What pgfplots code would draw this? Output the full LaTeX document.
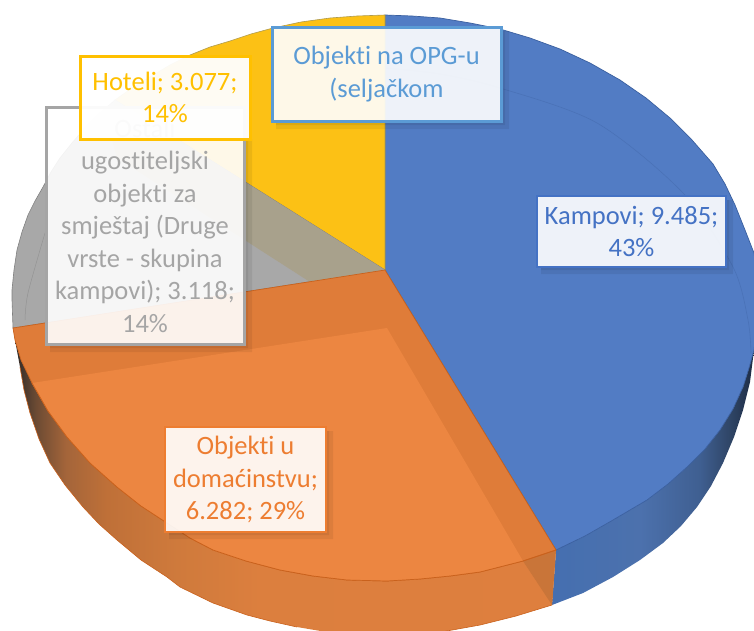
\documentclass[border=0pt]{standalone}
\usepackage{fontspec}
\setmainfont[Ligatures=NoCommon]{Carlito}
\usepackage{pgfplots}
\pgfplotsset{compat=1.18}
\definecolor{cblue}{HTML}{527CC4}
\definecolor{cblueln}{HTML}{3A5F9F}
\definecolor{corg}{HTML}{DF7C39}
\definecolor{corgl}{HTML}{EC8641}
\definecolor{corgln}{HTML}{C9611C}
\definecolor{ctri}{HTML}{C97539}
\definecolor{cyel}{HTML}{FCC115}
\definecolor{cgry}{HTML}{A8A8A8}
\definecolor{ckha}{HTML}{A8A18C}
\definecolor{lblue}{HTML}{5B9BD5}
\definecolor{lkamp}{HTML}{4472C4}
\definecolor{lorg}{HTML}{ED7D31}
\definecolor{lyel}{HTML}{FFC000}
\definecolor{lgry}{HTML}{A5A5A5}
\definecolor{oa}{HTML}{2E2A28}\definecolor{ob}{HTML}{6B4A33}\definecolor{oc}{HTML}{A4653A}\definecolor{od}{HTML}{BF7038}\definecolor{oe}{HTML}{CF7A3C}\definecolor{of}{HTML}{DC7F3E}\definecolor{og}{HTML}{DE7F3E}
\definecolor{ba}{HTML}{456FB0}\definecolor{bb}{HTML}{4C71AD}\definecolor{bc}{HTML}{3F5F91}\definecolor{bd}{HTML}{2F4566}\definecolor{be}{HTML}{1E2C44}
\pgfdeclarehorizontalshading{orangeside}{100bp}{color(0bp)=(oa);color(25bp)=(oa);color(26.9bp)=(ob);color(29.7bp)=(oc);color(33.5bp)=(od);color(40bp)=(oe);color(47.6bp)=(of);color(75bp)=(og);color(100bp)=(og)}
\pgfdeclarehorizontalshading{blueside}{100bp}{color(0bp)=(ba);color(25bp)=(ba);color(46.8bp)=(bb);color(61.6bp)=(bc);color(69bp)=(bd);color(75bp)=(be);color(100bp)=(be)}
\tikzset{lab/.style n args={4}{rectangle,fill=white,fill opacity=.9,text opacity=1,draw=#1,draw opacity=1,line width=#2,text=#1,minimum width=#3,minimum height=#4,inner sep=0pt,align=center,font=\fontsize{26.5}{32.5}\selectfont},
shd/.style={draw=none,fill=black,fill opacity=.065}}
\begin{document}
\begin{tikzpicture}
\begin{axis}[hide axis,scale only axis,width=754pt,height=630pt,xmin=0,xmax=754,ymin=0,ymax=630,y dir=reverse,clip=true]
% side walls
\addplot[draw=none,shading=blueside] coordinates {(556,550)(585,536)(613,520)(647,500)(668,484)(687,467)(705,449)(720,430)(733,409)(743,387)(749,368)(754,350)(750,382)(743,410)(734,437)(723,463)(711,486)(697,507)(681,526)(663,543)(640,560)(613,577)(583,593)(552,605)} --cycle;
\addplot[draw=none,shading=orangeside] coordinates {(15,340)(21,360)(32,383)(48,411)(67,437)(90,463)(117,487)(141,506)(167,523)(190,538)(213,550)(246,561)(280,570)(313,576)(347,580)(387,581)(420,579)(450,576)(480,572)(523,561)(556,550)(552,605)(516,616)(480,625)(430,634)(350,636)(297,627)(270,621)(247,615)(213,603)(180,587)(167,577)(141,560)(117,540)(99,524)(83,507)(65,485)(50,463)(39,439)(30,413)(24,390)(20,367)} --cycle;
\addplot[draw=none,fill=ctri] coordinates {(523,561)(556,550)(552,605)} --cycle;
\addplot[draw=corgln,line width=.6pt] coordinates {(552,605)(516,616)(480,625)(430,634)};
\addplot[draw=corgln,line width=.6pt] coordinates {(297,627)(270,621)(247,615)(213,603)(180,587)(167,577)(141,560)(117,540)(99,524)(83,507)(65,485)(50,463)(39,439)(30,413)(24,390)(20,367)};
% blue top
\addplot[draw=cblueln,line width=.7pt,fill=cblue] coordinates {(385,270)(385,15)(412,16)(440,18)(470,23)(500,29)(530,38)(560,49)(590,63)(620,80)(646,98)(670,118)(692,140)(713,164)(725,184)(735,205)(745,230)(754,253)(760,300)(754,350)(749,368)(743,387)(733,409)(720,430)(705,449)(687,467)(668,484)(647,500)(613,520)(585,536)(556,550)} --cycle;
\addplot[smooth,draw=cblueln!35!cblue,line width=.6pt] coordinates {(385,68)(440,74)(500,88)(597,123)(683,193)(733,267)(748,320)(751,353)};
% yellow top
\addplot[draw=cblueln!40!cyel,line width=.6pt,fill=cyel] coordinates {(385,270)(385,15)(357,16)(330,18)(301,22)(273,28)(251,34)(230,41)(210,47)(190,55)(170,65)(150,77)(132,88)(115,100)} --cycle;
% grey top
\addplot[draw=gray,line width=.6pt,fill=cgry] coordinates {(385,270)(115,100)(99,114)(85,128)(72,143)(60,158)(51,172)(43,187)(35,201)(28,215)(22,232)(17,250)(14,270)(12,290)(12,300)(13,328)} --cycle;
\addplot[draw=none,fill=ckha] coordinates {(385,270)(115,100)(109,130)(117,158)(310,282)} --cycle;
\addplot[smooth,draw=gray!50!cgry,line width=.5pt] coordinates {(45,233)(28,293)(25,320)};
% orange top
\addplot[draw=corgln,line width=.7pt,fill=corg] coordinates {(385,270)(13,328)(15,340)(21,360)(32,383)(48,411)(67,437)(90,463)(117,487)(141,506)(167,523)(190,538)(213,550)(246,561)(280,570)(313,576)(347,580)(387,581)(420,579)(450,576)(480,572)(523,561)(556,550)} --cycle;
\addplot[draw=none,fill=corgl] coordinates {(387,328)(32,383)(48,411)(67,437)(90,463)(117,487)(141,506)(167,523)(190,538)(213,550)(246,561)(280,570)(313,576)(347,580)(387,581)(420,579)(450,576)(480,572)(523,561)} --cycle;
\addplot[draw=corgln,line width=.7pt] coordinates {(32,383)(48,411)(67,437)(90,463)(117,487)(141,506)(167,523)(190,538)(213,550)(246,561)(280,570)(313,576)(347,580)(387,581)(420,579)(450,576)(480,572)(523,561)(556,550)};
% label shadows
\addplot[shd] coordinates {(726,200)(729,200)(729,270)(541,270)(541,267)(726,267)} --cycle;
\addplot[shd] coordinates {(726,200)(733,200)(733,274)(541,274)(541,267)(726,267)} --cycle;
\addplot[shd] coordinates {(326,431)(329,431)(329,535)(169,535)(169,532)(326,532)} --cycle;
\addplot[shd] coordinates {(326,431)(333,431)(333,539)(169,539)(169,532)(326,532)} --cycle;
\addplot[shd] coordinates {(244,139)(248,139)(248,348)(50,348)(50,344)(244,344)} --cycle;
\addplot[shd] coordinates {(244,139)(252,139)(252,352)(50,352)(50,344)(244,344)} --cycle;
\addplot[shd] coordinates {(501,31)(505,31)(505,125)(276,125)(276,121)(501,121)} --cycle;
\addplot[shd] coordinates {(501,31)(509,31)(509,129)(276,129)(276,121)(501,121)} --cycle;
% labels
\node[lab={lkamp}{1.5pt}{189pt}{71pt}] at (axis cs:631.5,231.5) {Kampovi; 9.485;\\43\%};
\node[lab={lorg}{2pt}{161pt}{105pt}] at (axis cs:245.5,479.5) {Objekti u\\domaćinstvu;\\6.282; 29\%};
\node[lab={lgry}{3pt}{198pt}{237pt}] at (axis cs:145,225.5) {Ostali\\ugostiteljski\\objekti za\\smještaj (Druge\\vrste - skupina\\kampovi); 3.118;\\14\%};
\node[lab={lyel}{3pt}{170pt}{83pt},fill opacity=.95] at (axis cs:165,97.5) {Hoteli; 3.077;\\14\%};
\node[lab={lblue}{3pt}{229pt}{94pt}] at (axis cs:386.5,74) {Objekti na OPG-u\\(seljačkom};
\end{axis}
\useasboundingbox (current axis.south west) rectangle (current axis.north east);
\end{tikzpicture}
\end{document}
